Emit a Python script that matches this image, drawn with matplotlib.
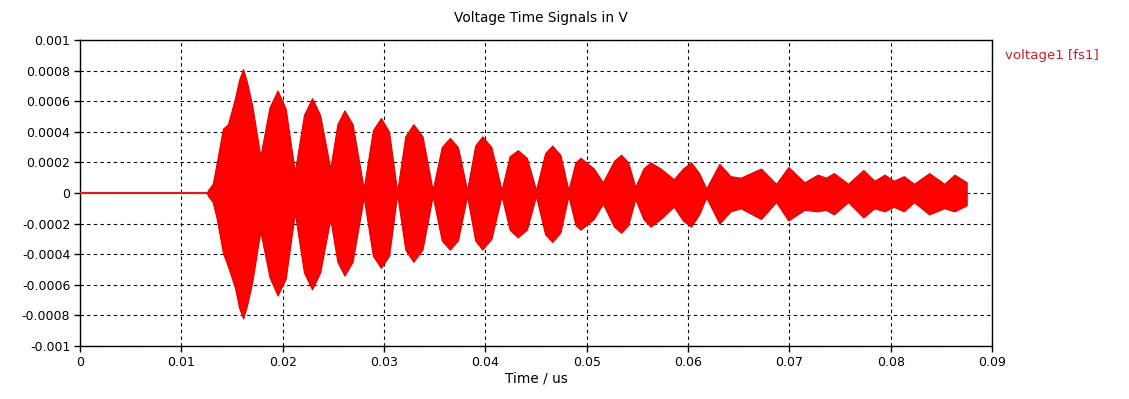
import matplotlib
matplotlib.use("Agg")
import matplotlib.pyplot as plt

# envelope of the voltage1 [fs1] signal (t in us, V)
t_env = [0.0125, 0.01265, 0.0131, 0.0135, 0.0141, 0.0146, 0.0153, 0.0157, 0.0161,
         0.0165, 0.0170, 0.0178, 0.0187, 0.0195, 0.0203, 0.0212, 0.0221, 0.0229,
         0.0237, 0.0247, 0.0254, 0.0261, 0.0269, 0.0280, 0.0289, 0.0297, 0.0305,
         0.0313, 0.0321, 0.0329, 0.0338, 0.0348, 0.0357, 0.0365, 0.0373, 0.0382,
         0.0390, 0.0397, 0.0406, 0.0416, 0.0424, 0.0432, 0.0441, 0.0450, 0.0459,
         0.0466, 0.0474, 0.0482, 0.0489, 0.0494, 0.0507, 0.0516, 0.0527, 0.0534,
         0.0541, 0.0548, 0.0556, 0.0563, 0.0573, 0.0586, 0.0595, 0.0603, 0.0611,
         0.0618, 0.0631, 0.0642, 0.0652, 0.0672, 0.0687, 0.0699, 0.0715, 0.0728,
         0.0736, 0.0744, 0.0758, 0.0773, 0.0784, 0.0794, 0.0803, 0.0813, 0.0823,
         0.0838, 0.0853, 0.0863, 0.0875]
v_upper = [0.0, 0.00002, 0.00006, 0.00020, 0.00042, 0.00045, 0.00062, 0.00074, 0.00081,
           0.00072, 0.00057, 0.00024, 0.00056, 0.00067, 0.00055, 0.00014, 0.00051, 0.00062,
           0.00051, 0.00016, 0.00045, 0.00054, 0.00045, 0.00003, 0.00041, 0.00049, 0.00040,
           0.00001, 0.00037, 0.00045, 0.00037, 0.00002, 0.00030, 0.00036, 0.00030, 0.00002,
           0.00031, 0.00037, 0.00030, 0.00002, 0.00024, 0.00028, 0.00023, 0.00002, 0.00026,
           0.00031, 0.00025, 0.00002, 0.00020, 0.00023, 0.00016, 0.00007, 0.00021, 0.00025,
           0.00020, 0.00004, 0.00016, 0.00020, 0.00016, 0.00009, 0.00016, 0.00020, 0.00013,
           0.00003, 0.00019, 0.00011, 0.00010, 0.00016, 0.00006, 0.00017, 0.00007, 0.00012,
           0.00010, 0.00013, 0.00006, 0.00015, 0.00008, 0.00012, 0.00008, 0.00011, 0.00006,
           0.00013, 0.00006, 0.00012, 0.00007]
v_lower = [0.0, -0.00002, -0.00006, -0.00017, -0.00039, -0.00048, -0.00062, -0.00075, -0.00082,
           -0.00073, -0.00058, -0.00025, -0.00055, -0.00067, -0.00056, -0.00013, -0.00052, -0.00063,
           -0.00052, -0.00017, -0.00045, -0.00054, -0.00045, -0.00003, -0.00041, -0.00049, -0.00041,
           -0.00001, -0.00037, -0.00045, -0.00037, -0.00002, -0.00031, -0.00037, -0.00031, -0.00002,
           -0.00031, -0.00037, -0.00030, -0.00002, -0.00024, -0.00029, -0.00024, -0.00002, -0.00027,
           -0.00032, -0.00026, -0.00002, -0.00021, -0.00024, -0.00017, -0.00007, -0.00022, -0.00026,
           -0.00021, -0.00004, -0.00017, -0.00022, -0.00017, -0.00009, -0.00018, -0.00022, -0.00014,
           -0.00003, -0.00020, -0.00012, -0.00010, -0.00017, -0.00006, -0.00018, -0.00011, -0.00012,
           -0.00011, -0.00014, -0.00006, -0.00016, -0.00010, -0.00012, -0.00009, -0.00012, -0.00006,
           -0.00014, -0.00010, -0.00012, -0.00008]

# quiet part before the pulse
t_pre = [0.0, 0.0125]
v_pre = [0.0, 0.0]

x_ticks = [0, 0.01, 0.02, 0.03, 0.04, 0.05, 0.06, 0.07, 0.08, 0.09]
x_labels = ["0", "0.01", "0.02", "0.03", "0.04", "0.05", "0.06", "0.07", "0.08", "0.09"]
y_ticks = [-0.001, -0.0008, -0.0006, -0.0004, -0.0002, 0, 0.0002, 0.0004, 0.0006, 0.0008, 0.001]
y_labels = ["-0.001", "-0.0008", "-0.0006", "-0.0004", "-0.0002", "0",
            "0.0002", "0.0004", "0.0006", "0.0008", "0.001"]

plt.rcParams['font.family'] = ['DejaVu Sans']
fig = plt.figure(figsize=(11.29, 3.99), dpi=100)
ax = fig.add_axes([80 / 1129, 53 / 399, 912 / 1129, 306 / 399])

ax.plot(t_pre, v_pre, color="#d42020", lw=1.6, zorder=3)
ax.fill_between(t_env, v_lower, v_upper, color="#ff0000", lw=0.8, edgecolor="#e00000", zorder=3)

ax.set_xlim(0, 0.09)
ax.set_ylim(-0.001, 0.001)
ax.set_xticks(x_ticks)
ax.set_xticklabels(x_labels)
ax.set_yticks(y_ticks)
ax.set_yticklabels(y_labels)
ax.tick_params(direction="out", length=4, width=1, labelsize=9, colors="black", pad=3)
ax.grid(True, color="black", linestyle=(0, (3, 3)), lw=0.8)
for s in ax.spines.values():
    s.set_linewidth(1.0)

ax.set_xlabel("Time / us", fontsize=9.8, labelpad=2)
fig.text(541 / 1129, 1 - 18 / 399, "Voltage Time Signals in V", ha="center", va="center", fontsize=9.8)
fig.text(1005 / 1129, 1 - 55 / 399, "voltage1 [fs1]", ha="left", va="center", fontsize=9.6, color="#c81e2e")

fig.savefig("out.png", dpi=100)
